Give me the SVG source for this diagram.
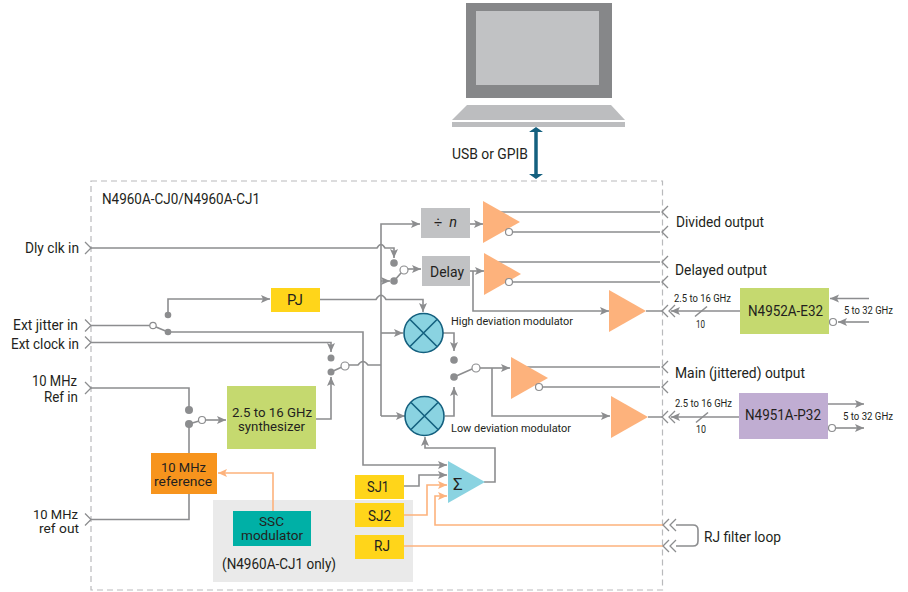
<svg xmlns="http://www.w3.org/2000/svg" width="908" height="592" viewBox="0 0 908 592">
<style>
text{font-family:"Roboto","Liberation Sans",sans-serif;fill:#231f20;font-size:14.5px}
.s{font-size:11px}
.m{font-size:11.5px}
.t{font-size:12.500px}
.c{fill:none;stroke:#8c8d8f;stroke-width:1.6}
.o{fill:none;stroke:#fdb27c;stroke-width:1.6}
.a{marker-end:url(#ag)}
.ao{marker-end:url(#ao)}
.d{fill:#8c8d8f}
.w{fill:#fff;stroke:#8c8d8f;stroke-width:1.2}
.amp{fill:#fdb27c}
.y{fill:#ffd51a}
.g{fill:#c1c2c4}
.l{fill:#c5d96f}
.mx{fill:#8ad3e1;stroke:#14607f;stroke-width:1.6}
.mxl{fill:none;stroke:#14607f;stroke-width:1.6}
</style>
<defs>
<marker id="ag" markerUnits="userSpaceOnUse" markerWidth="11" markerHeight="10" refX="9" refY="5" orient="auto"><path d="M0 1L9 5L0 9L2 5Z" fill="#8c8d8f"/></marker>
<marker id="ao" markerUnits="userSpaceOnUse" markerWidth="11" markerHeight="10" refX="9" refY="5" orient="auto"><path d="M0 1L9 5L0 9L2 5Z" fill="#fdb27c"/></marker>
<path id="chl" d="M6 -6L0 0L6 6" fill="none" stroke="#8c8d8f" stroke-width="1.3"/>
<path id="chr" d="M-6 -6L0 0L-6 6" fill="none" stroke="#8c8d8f" stroke-width="1.3"/>
</defs>

<rect id="frame" x="91" y="181" width="571.500" height="409" fill="none" stroke="#b9babc" stroke-width="1.2" stroke-dasharray="6 4"/>
<rect id="cj1-panel" x="213" y="500" width="200" height="82" fill="#eaeaea"/>

<g id="laptop">
<rect x="466" y="3" width="146" height="95" fill="#868789"/>
<rect x="476" y="11" width="123" height="74" fill="#c1c2c4"/>
<path d="M467 105H611L625 120H452Z" fill="#bcbdbf"/>
<rect x="452" y="122" width="173" height="5" fill="#bcbdbf"/>
</g>
<g id="usb-link">
<path d="M536 131V175" stroke="#14607f" stroke-width="3.500"/>
<path d="M536 127L543 132H529Z M536 179L543 174H529Z" fill="#14607f"/>
<text x="452" y="159" textLength="76" lengthAdjust="spacingAndGlyphs">USB or GPIB</text>
</g>
<text x="102" y="204" textLength="158" lengthAdjust="spacingAndGlyphs">N4960A-CJ0/N4960A-CJ1</text>

<g id="connectors">
<path class="c" d="M91 248H377Q381 241 385 248H394V258" marker-end="url(#ag)"/>
<path class="c a" d="M381 416V224H420"/>
<path class="c a" d="M470 224H483"/>
<path class="c a" d="M381 281H390"/>
<path class="c a" d="M408 269H421"/>
<path class="c a" d="M470 271H484"/>
<path class="c a" d="M473 271V311H609"/>
<path class="c" d="M498 212H660M513 232H660M497 262H660M513 282H660"/>
<path class="c a" d="M320 299.500H376Q381 291 386 299.500H423V312"/>
<path class="c a" d="M381 333H403"/>
<path class="c a" d="M443 333H454V351"/>
<path class="c a" d="M381 416H405"/>
<path class="c a" d="M445 416H454V387"/>
<path class="c a" d="M480 368H510"/>
<path class="c a" d="M492 368V416H610"/>
<path class="c" d="M524 367H660M543 387H660"/>
<path class="c" d="M646 311H662M648 417H662"/>
<path class="c a" d="M740 311H671"/>
<path class="c a" d="M739 417H671"/>
<path class="c" d="M695 316.500L707 306.500M696 422.500L708 412.500"/>
<path class="c a" d="M869 298.500H830"/>
<path class="c a" d="M869 322H838"/>
<path class="c a" d="M828 404H864"/>
<path class="c a" d="M836 428H864"/>
<path class="c" d="M91 325.500H150"/>
<path class="c" d="M156 327L168 332"/>
<path class="c a" d="M168 315V299H270"/>
<path class="c a" d="M168 332H363V465H447"/>
<path class="c a" d="M91 342.500H331V352"/>
<path class="c a" d="M316 419H331V377"/>
<path class="c" d="M331 372L342 367"/>
<path class="c" d="M349 365H358Q363 358 368 365H381"/>
<path class="c" d="M91 388H189V410"/>
<path class="c" d="M189 424V453M189 494V519.500H91"/>
<path class="c" d="M189 424L199 421"/>
<path class="c a" d="M206 420H226"/>
<path class="c" d="M394 281L401 273"/>
<path class="c" d="M454 377L472 369"/>
<path class="c a" d="M484 482H495V448H425V437"/>
<path class="c a" d="M404 486H419V475H447"/>
<path class="o ao" d="M404 515H427V485H447"/>
<path class="o ao" d="M663 525H435V496H447"/>
<path class="o" d="M404 546H663"/>
<path class="o ao" d="M273 511V473H218"/>
<path class="c" d="M676 525H693Q698 525 698 530V541Q698 546 693 546H676"/>
<use href="#chr" x="91" y="248"/><use href="#chr" x="91" y="325.500"/><use href="#chr" x="91" y="342.500"/><use href="#chr" x="91" y="388"/><use href="#chr" x="91" y="519.500"/>
<use href="#chl" x="662" y="212"/><use href="#chl" x="662" y="232"/><use href="#chl" x="662" y="262"/><use href="#chl" x="662" y="282"/><use href="#chl" x="662" y="311"/><use href="#chl" x="669" y="311"/><use href="#chl" x="662" y="367"/><use href="#chl" x="662" y="387"/><use href="#chl" x="662" y="417"/><use href="#chl" x="669" y="417"/><use href="#chl" x="663" y="525"/><use href="#chl" x="670" y="525"/><use href="#chl" x="663" y="546"/><use href="#chl" x="670" y="546"/>
<circle class="d" cx="168" cy="315" r="3.300"/><circle class="d" cx="168" cy="332" r="3.300"/><circle class="w" cx="153" cy="325.500" r="3.200"/>
<circle class="d" cx="394" cy="263" r="3.800"/><circle class="d" cx="394" cy="281" r="3.800"/><circle class="w" cx="404" cy="270" r="4"/>
<circle class="d" cx="331" cy="358" r="3.500"/><circle class="d" cx="331" cy="372" r="3.500"/><circle class="w" cx="345" cy="366" r="4"/>
<circle class="d" cx="454" cy="360" r="3.800"/><circle class="d" cx="454" cy="377" r="3.800"/><circle class="w" cx="476" cy="368" r="4"/>
<circle class="d" cx="189" cy="410" r="4"/><circle class="d" cx="189" cy="424" r="4"/><circle class="w" cx="202" cy="420" r="3.500"/>
</g>

<g id="divider"><rect class="g" x="421" y="208" width="49" height="30"/><text x="434" y="227" textLength="23">÷ <tspan font-style="italic">n</tspan></text></g>
<g id="delay"><rect class="g" x="422" y="256" width="48" height="30"/><text x="430" y="277" textLength="34" lengthAdjust="spacingAndGlyphs">Delay</text></g>
<g id="amp-divided"><path class="amp" d="M483 201L520 222L483 243Z"/><circle class="w" cx="509" cy="232" r="3.500"/></g>
<g id="amp-delayed"><path class="amp" d="M484 253L521 274L484 295Z"/><circle class="w" cx="509" cy="282" r="3.500"/></g>
<g id="amp-main"><path class="amp" d="M511 357L548 378L511 399Z"/><circle class="w" cx="539" cy="387" r="3.500"/></g>
<g id="amp-e32"><path class="amp" d="M609 290L646 311L609 332Z"/></g>
<g id="amp-p32"><path class="amp" d="M611 396L648 417L611 438Z"/></g>
<g id="pj"><rect class="y" x="271" y="288" width="49" height="24"/><text x="287" y="305" textLength="16" lengthAdjust="spacingAndGlyphs">PJ</text></g>
<g id="high-mod"><circle class="mx" cx="423.500" cy="333" r="19.500"/><path class="mxl" d="M410 319.500L437 346.500M437 319.500L410 346.500"/><text class="m" x="451" y="325" textLength="122" lengthAdjust="spacingAndGlyphs">High deviation modulator</text></g>
<g id="low-mod"><circle class="mx" cx="424.500" cy="416" r="19.500"/><path class="mxl" d="M411 402.500L438 429.500M438 402.500L411 429.500"/><text class="m" x="451" y="432" textLength="120" lengthAdjust="spacingAndGlyphs">Low deviation modulator</text></g>
<g id="summer"><path d="M448 461L485 482L448 503Z" fill="#8ad3e1"/><text x="453" y="490" style="font-size:17px">Σ</text></g>
<g id="synth"><rect class="l" x="227" y="386" width="89" height="63"/><text class="t" x="232" y="417" textLength="80" lengthAdjust="spacingAndGlyphs">2.5 to 16 GHz</text><text class="t" x="238" y="431" textLength="67" lengthAdjust="spacingAndGlyphs">synthesizer</text></g>
<g id="ref10"><rect x="151" y="453" width="66" height="41" fill="#f7941d"/><text class="t" x="161" y="472" textLength="45" lengthAdjust="spacingAndGlyphs">10 MHz</text><text class="t" x="154" y="486" textLength="58" lengthAdjust="spacingAndGlyphs">reference</text></g>
<g id="ssc"><rect x="233" y="511" width="78" height="35" fill="#00b0a6"/><text class="t" x="259" y="526" textLength="25" lengthAdjust="spacingAndGlyphs">SSC</text><text class="t" x="241" y="540" textLength="62" lengthAdjust="spacingAndGlyphs">modulator</text></g>
<text x="222" y="569" textLength="114" lengthAdjust="spacingAndGlyphs">(N4960A-CJ1 only)</text>
<g id="sj1"><rect class="y" x="355" y="475" width="49" height="24"/><text x="367" y="492" textLength="22" lengthAdjust="spacingAndGlyphs">SJ1</text></g>
<g id="sj2"><rect class="y" x="355" y="503" width="49" height="24"/><text x="368" y="521" textLength="23" lengthAdjust="spacingAndGlyphs">SJ2</text></g>
<g id="rj"><rect class="y" x="355" y="535" width="49" height="24"/><text x="374" y="551" textLength="16" lengthAdjust="spacingAndGlyphs">RJ</text></g>
<g id="e32"><rect class="l" x="740" y="288" width="89" height="46"/><text x="748" y="316" textLength="75" lengthAdjust="spacingAndGlyphs">N4952A-E32</text></g>
<g id="p32"><rect x="739" y="393" width="89" height="46" fill="#c0add2"/><text x="745" y="420" textLength="76" lengthAdjust="spacingAndGlyphs">N4951A-P32</text></g>
<circle class="w" cx="833" cy="322" r="3.500"/><circle class="w" cx="832" cy="428" r="3.500"/>

<g id="labels">
<text x="25" y="253" textLength="54" lengthAdjust="spacingAndGlyphs">Dly clk in</text>
<text x="13" y="330" textLength="65" lengthAdjust="spacingAndGlyphs">Ext jitter in</text>
<text x="11" y="349" textLength="68" lengthAdjust="spacingAndGlyphs">Ext clock in</text>
<text x="32" y="386" textLength="45" lengthAdjust="spacingAndGlyphs">10 MHz</text>
<text x="44" y="402" textLength="34" lengthAdjust="spacingAndGlyphs">Ref in</text>
<text class="t" x="33" y="519" textLength="45" lengthAdjust="spacingAndGlyphs">10 MHz</text>
<text class="t" x="39" y="533" textLength="40" lengthAdjust="spacingAndGlyphs">ref out</text>
<text x="676" y="227" textLength="88" lengthAdjust="spacingAndGlyphs">Divided output</text>
<text x="675" y="275" textLength="92" lengthAdjust="spacingAndGlyphs">Delayed output</text>
<text x="675" y="378" textLength="130" lengthAdjust="spacingAndGlyphs">Main (jittered) output</text>
<text x="704" y="542" textLength="77" lengthAdjust="spacingAndGlyphs">RJ filter loop</text>
<text class="s" x="674" y="302" textLength="57" lengthAdjust="spacingAndGlyphs">2.5 to 16 GHz</text>
<text class="s" x="696" y="328" textLength="9" lengthAdjust="spacingAndGlyphs">10</text>
<text class="s" x="844" y="314" textLength="49" lengthAdjust="spacingAndGlyphs">5 to 32 GHz</text>
<text class="s" x="675" y="407" textLength="57" lengthAdjust="spacingAndGlyphs">2.5 to 16 GHz</text>
<text class="s" x="696" y="433" textLength="10" lengthAdjust="spacingAndGlyphs">10</text>
<text class="s" x="843" y="420" textLength="50" lengthAdjust="spacingAndGlyphs">5 to 32 GHz</text>
</g>
</svg>
